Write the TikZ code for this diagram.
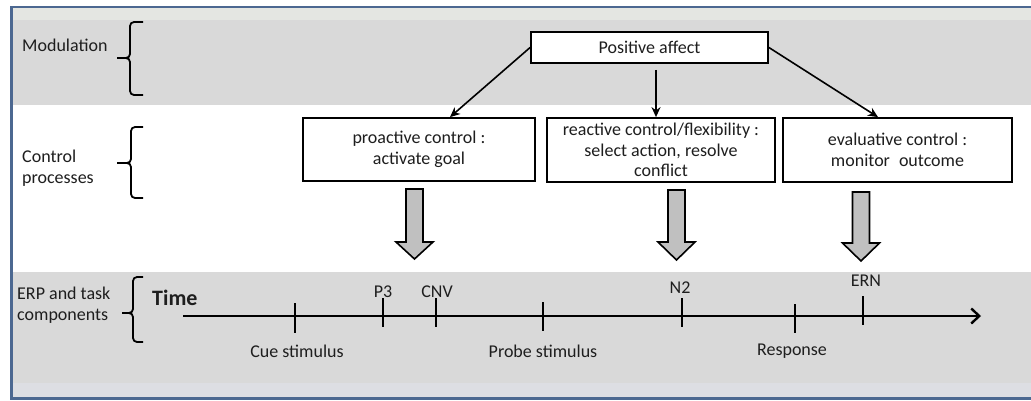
\documentclass[tikz,border=0pt]{standalone}
\usepackage{fontspec}
\setmainfont{Carlito}
\usetikzlibrary{arrows.meta}
\definecolor{bandgrey}{RGB}{217,217,217}
\definecolor{stripgrey}{RGB}{228,230,226}
\definecolor{footgrey}{RGB}{221,222,227}
\definecolor{frameblue}{RGB}{76,104,145}
\definecolor{arrowgrey}{RGB}{192,192,192}
\definecolor{textgrey}{RGB}{30,30,30}
\tikzset{
  box/.style={draw, line width=1.8pt, fill=white, align=center, inner sep=2pt,
    text=textgrey},
  rowlabel/.style={anchor=west, align=left, inner sep=0pt, text=textgrey},
  ticklabel/.style={inner sep=0pt, text=textgrey},
  bracket/.style={line width=1.8pt, rounded corners=4pt},
  feed/.style={line width=1.6pt, -{Stealth[length=10pt,width=9pt]}},
  blockarrow/.style={draw, line width=1.6pt, fill=arrowgrey, line join=miter},
  timeline/.style={line width=2.6pt, -{Straight Barb[length=8pt,width=15pt,line width=2.4pt]}},
  tickmark/.style={line width=2.6pt}
}
\begin{document}
\begin{tikzpicture}[x=1pt,y=-1pt,font=\fontsize{18}{20.5}\selectfont]
  \useasboundingbox (0,0) rectangle (1031,400);
  % bands
  \fill[white] (0,0) rectangle (1031,400);
  \fill[stripgrey] (11,7) rectangle (1031,20);
  \fill[bandgrey] (11,20) rectangle (1031,105);
  \fill[bandgrey] (11,272) rectangle (1031,383);
  \fill[footgrey] (11,383) rectangle (1031,398);
  \draw[frameblue, line width=2.6pt] (1040,7) -- (11.5,7) -- (11.5,398.5) -- (1040,398.5);
  % row labels and brackets
  \node[rowlabel] (modlab) at (22,45) {Modulation};
  \node[rowlabel] (ctrllab) at (22,168) {Control\\processes};
  \node[rowlabel] (erplab) at (17,305) {ERP and task\\components};
  \draw[bracket] (143,22) -- (130,22) -- (130,58) -- (117,58);
  \draw[bracket] (117,58) -- (130,58) -- (130,95) -- (143,95);
  \draw[bracket] (143,127) -- (131,127) -- (131,163) -- (117,163);
  \draw[bracket] (117,163) -- (131,163) -- (131,198) -- (143,198);
  \draw[bracket] (143,277) -- (133,277) -- (133,313) -- (122,313);
  \draw[bracket] (122,313) -- (133,313) -- (133,342) -- (143,342);
  % boxes
  \node[box, minimum width=237pt, minimum height=31pt] (affect) at (649.5,47.5) {Positive affect};
  \node[box, minimum width=232pt, minimum height=63pt] (proactive) at (419,149.5)
    {proactive control :\\activate goal};
  \node[box, minimum width=228pt, minimum height=64pt] (reactive) at (661,150)
    {reactive control/flexibility :\\select action, resolve\\conflict};
  \node[box, minimum width=229pt, minimum height=64pt] (evaluative) at (897.5,150)
    {evaluative control :\\monitor\enspace outcome};
  \draw[feed] (affect.west) -- ([xshift=31pt]proactive.north);
  \draw[feed] ([xshift=6.5pt,yshift=-6pt]affect.south) -- ([xshift=-5pt]reactive.north);
  \draw[feed] (affect.east) -- ([xshift=-19.5pt]evaluative.north);
  % block arrows
  \foreach \cx/\top/\head/\tip in {414.5/189/242/259, 676.5/190/242/260, 861/192/243/261}
    \draw[blockarrow] (\cx-8.5,\top) -- (\cx+8.5,\top) -- (\cx+8.5,\head) -- (\cx+18.5,\head)
      -- (\cx,\tip) -- (\cx-18.5,\head) -- (\cx-8.5,\head) -- cycle;
  % time axis
  \node[anchor=west, inner sep=0pt, text=textgrey, font=\fontsize{22}{24}\selectfont\bfseries]
    (time) at (152,298) {Time};
  \coordinate (tstart) at (183,316);
  \coordinate (tend) at (981,316);
  \draw[timeline] (tstart) -- (tend);
  \draw[tickmark] (295,303) -- (295,333);
  \draw[tickmark] (383,298) -- (383,327);
  \draw[tickmark] (436,298) -- (436,327);
  \draw[tickmark] (543,302) -- (543,331);
  \draw[tickmark] (682,298) -- (682,327);
  \draw[tickmark] (795,304) -- (795,333);
  \draw[tickmark] (863,296) -- (863,325);
  \node[ticklabel] (cue) at (297,351) {Cue stimulus};
  \node[ticklabel] (probe) at (543,351) {Probe stimulus};
  \node[ticklabel] (resp) at (792,351) {Response};
  \node[ticklabel] (pthree) at (383,292) {P3};
  \node[ticklabel] (cnv) at (437,292) {CNV};
  \node[ticklabel] (ntwo) at (680,288) {N2};
  \node[ticklabel] (ern) at (866,281) {ERN};
\end{tikzpicture}
\end{document}
